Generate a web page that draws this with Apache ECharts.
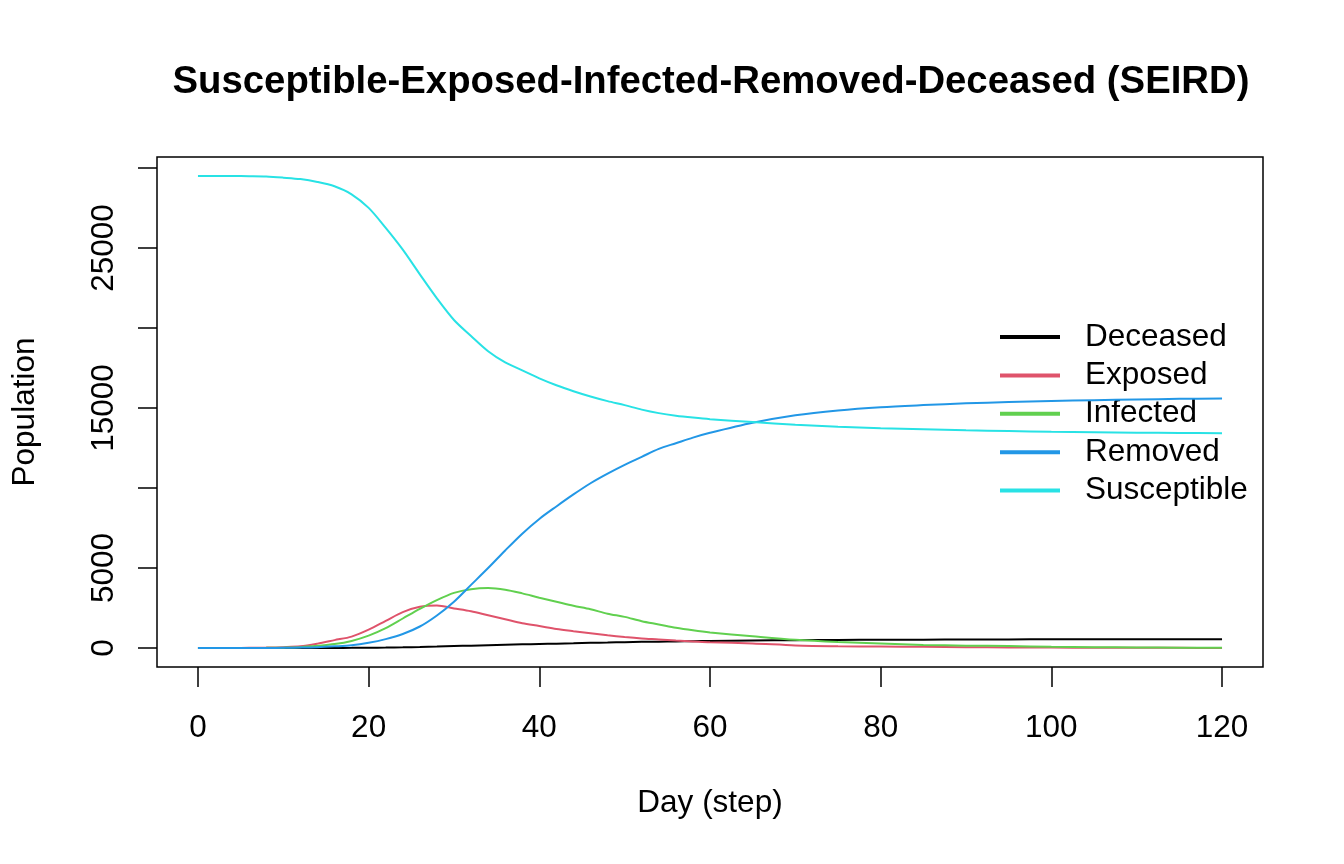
<!DOCTYPE html>
<html>
<head>
<meta charset="utf-8">
<title>SEIRD</title>
<script src="https://cdn.jsdelivr.net/npm/echarts@6/dist/echarts.min.js"></script>
<style>
    html, body { margin: 0; padding: 0; background: #fff; }
    #chart { width: 1344px; height: 864px; }
</style>
</head>
<body>
<div id="chart"></div>
<script>
// days (denser where curves bend)
var days = [0, 2, 4, 6, 8, 10, 12, 14, 16, 18, 20, 22, 24, 26, 28, 30, 32, 34, 36, 38, 40,
    42, 44, 46, 48, 50, 52, 54, 56, 58, 60, 65, 70, 75, 80, 85, 90, 95, 100, 105, 110, 115, 120];

var deceased = [0, 0, 0, 0, 0, 0, 2, 5, 10, 15, 25, 35, 50, 70, 95, 125, 155, 185, 210, 235, 260,
    280, 300, 330, 350, 370, 390, 405, 420, 435, 445, 475, 495, 510, 520, 530, 538, 545, 550, 552, 555, 557, 560];

var exposed = [0, 5, 10, 20, 35, 60, 110, 280, 500, 720, 1150, 1700, 2250, 2580, 2660, 2480, 2300, 2050, 1800, 1550, 1380,
    1200, 1060, 930, 800, 690, 600, 540, 470, 420, 370, 290, 170, 120, 100, 80, 60, 45, 35, 25, 20, 15, 10];

var infected = [0, 2, 5, 10, 15, 30, 60, 140, 250, 450, 780, 1250, 1850, 2450, 3000, 3450, 3680, 3750, 3650, 3420, 3150,
    2900, 2650, 2430, 2150, 1950, 1680, 1480, 1270, 1110, 980, 740, 520, 380, 290, 200, 150, 130, 80, 60, 40, 25, 15];

var removed = [0, 0, 2, 5, 10, 20, 35, 60, 110, 175, 330, 560, 880, 1350, 2040, 2900, 3950, 5000, 6100, 7150, 8070,
    8850, 9600, 10300, 10900, 11450, 11950, 12450, 12800, 13150, 13450, 14080, 14550, 14850, 15050, 15180, 15290, 15370, 15440, 15490, 15530, 15570, 15590];

var susceptible = [29500, 29495, 29490, 29480, 29460, 29390, 29300, 29120, 28850, 28350, 27500, 26250, 24890, 23350, 21850, 20500, 19500, 18550, 17850, 17350, 16850,
    16420, 16050, 15720, 15430, 15180, 14900, 14680, 14520, 14400, 14300, 14120, 13950, 13830, 13740, 13670, 13610, 13560, 13520, 13490, 13460, 13440, 13430];

var xTicks = [0, 20, 40, 60, 80, 100, 120];
var yTicks = [0, 5000, 10000, 15000, 20000, 25000, 30000];
var yLabels = [0, 5000, 15000, 25000];

var seriesNames = ['Deceased', 'Exposed', 'Infected', 'Removed', 'Susceptible'];
var seriesData = [deceased, exposed, infected, removed, susceptible];
var seriesColors = ['#000000', '#DF536B', '#61D04F', '#2297E6', '#28E2E5'];

var FONT = 'Liberation Sans, Arial, Helvetica, sans-serif';
var FS = 31.5;

function pairs(values) {
    var out = [];
    for (var i = 0; i < days.length; i++) {
        out.push([days[i], values[i]]);
    }
    return out;
}

var myChart = echarts.init(document.querySelector('#chart'));

var series = [];
for (var k = 0; k < seriesNames.length; k++) {
    series.push({
        name: seriesNames[k],
        type: 'line',
        data: pairs(seriesData[k]),
        symbol: 'none',
        showSymbol: false,
        smooth: 0.3,
        lineStyle: { width: 2, color: seriesColors[k] },
        itemStyle: { color: seriesColors[k] },
        z: 2 + k
    });
}

var option = {
    backgroundColor: '#ffffff',
    animation: false,
    title: {
        text: 'Susceptible-Exposed-Infected-Removed-Deceased (SEIRD)',
        left: 706,
        top: 58,
        textAlign: 'center',
        textStyle: {
            fontFamily: FONT,
            fontSize: 38.3,
            fontWeight: 'bold',
            color: '#000'
        }
    },
    legend: {
        orient: 'vertical',
        left: 995,
        top: 316,
        icon: 'rect',
        itemWidth: 60,
        itemHeight: 4,
        itemGap: 6.4,
        data: seriesNames,
        textStyle: {
            fontFamily: FONT,
            fontSize: FS,
            lineHeight: 32,
            color: '#000',
            padding: [0, 0, 0, 20]
        }
    },
    grid: {
        left: 157,
        right: 81,
        top: 157,
        bottom: 197,
        show: true,
        borderColor: '#000',
        borderWidth: 1.5,
        backgroundColor: 'transparent'
    },
    xAxis: {
        type: 'value',
        min: -4.8,
        max: 124.8,
        name: 'Day (step)',
        nameLocation: 'middle',
        nameGap: 120,
        nameTextStyle: { fontFamily: FONT, fontSize: FS, color: '#000' },
        axisLine: { show: false, onZero: false },
        splitLine: { show: false },
        axisTick: {
            show: true,
            inside: false,
            length: 20,
            customValues: xTicks,
            lineStyle: { color: '#000', width: 1.5 }
        },
        axisLabel: {
            customValues: xTicks,
            margin: 45,
            fontFamily: FONT,
            fontSize: FS,
            color: '#000',
            formatter: function (v) { return String(v); }
        }
    },
    yAxis: {
        type: 'value',
        min: -1180,
        max: 30680,
        name: 'Population',
        nameLocation: 'middle',
        nameRotate: 90,
        nameGap: 116,
        nameTextStyle: { fontFamily: FONT, fontSize: FS, color: '#000' },
        axisLine: { show: false, onZero: false },
        splitLine: { show: false },
        axisTick: {
            show: true,
            inside: false,
            length: 19,
            customValues: yTicks,
            lineStyle: { color: '#000', width: 1.5 }
        },
        axisLabel: {
            customValues: yLabels,
            rotate: 90,
            margin: 37,
            fontFamily: FONT,
            fontSize: FS,
            color: '#000',
            formatter: function (v) { return String(v); }
        }
    },
    series: series
};

myChart.setOption(option);
</script>
</body>
</html>
